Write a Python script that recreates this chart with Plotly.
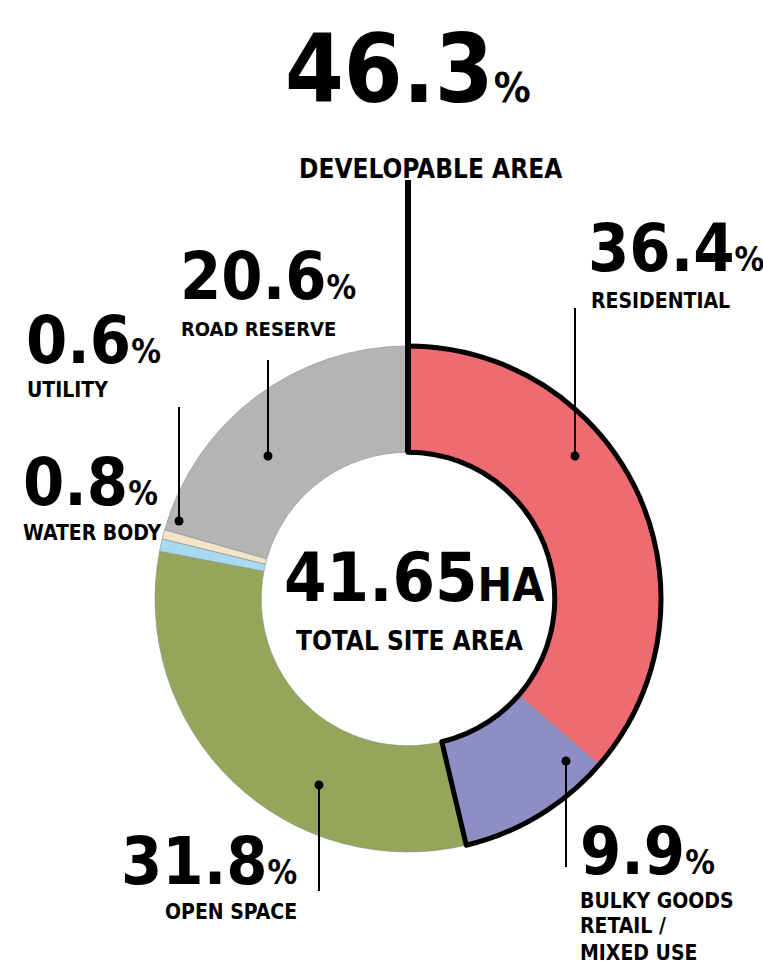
import plotly.graph_objects as go

# Land-use breakdown of the site (percent of total area), clockwise from 12 o'clock
categories = ["Residential", "Bulky Goods Retail / Mixed Use", "Open Space",
              "Water Body", "Utility", "Road Reserve"]
shares = [36.4, 9.9, 31.8, 0.8, 0.6, 20.6]
colors = ["#EE6B72", "#8E8EC5", "#95A65A", "#A8D9F3", "#F3E4C7", "#B4B4B4"]

# Developable area = residential + bulky goods
developable = 46.3
total_site_ha = "41.65"

W, H = 763, 965
FONT = "DejaVu Sans Condensed, Liberation Sans Narrow, Arial Narrow, sans-serif"

# Donut geometry (pixels)
CX, CY, R = 408, 599, 253
HOLE = 0.58


def px(x):
    return x / W


def py(y):
    return 1 - y / H


fig = go.Figure()

dom = dict(x=[px(CX - R), px(CX + R)], y=[py(CY + R), py(CY - R)])

fig.add_trace(go.Pie(
    labels=categories, values=shares, hole=HOLE, sort=False,
    direction="clockwise", rotation=0, textinfo="none", hoverinfo="skip",
    marker=dict(colors=colors, line=dict(color="#8c8c8c", width=0.6)),
    domain=dom, showlegend=False,
))

# Outline around the developable portion of the ring
fig.add_trace(go.Pie(
    labels=["Developable", "Other"], values=[developable, 100 - developable],
    hole=HOLE, sort=False, direction="clockwise", rotation=0,
    textinfo="none", hoverinfo="skip",
    marker=dict(colors=["rgba(0,0,0,0)", "rgba(0,0,0,0)"],
                line=dict(color="black", width=[5, 0])),
    domain=dom, showlegend=False,
))

shapes = []


def vline(x, y0, y1, w=2):
    shapes.append(dict(type="line", xref="paper", yref="paper",
                       x0=px(x), x1=px(x), y0=py(y0), y1=py(y1),
                       line=dict(color="black", width=w), layer="above"))


def dot(x, y, r=4.5):
    shapes.append(dict(type="circle", xref="paper", yref="paper",
                       x0=px(x - r), x1=px(x + r), y0=py(y + r), y1=py(y - r),
                       fillcolor="black", line=dict(width=0), layer="above"))


# Divider from the headline down into the ring
vline(408, 180, 452, w=6)

# Leader lines with end dots
vline(575, 308, 456); dot(575, 456)       # residential
vline(566, 867, 761); dot(566, 761)       # bulky goods
vline(319, 891, 785); dot(319, 785)       # open space
vline(268, 360, 456); dot(268, 456)       # road reserve
vline(179, 407, 521); dot(179, 521)       # utility

annotations = []


def label(text, x, base, size, anchor="left"):
    bottom = base + 0.22 * size
    annotations.append(dict(
        text=text, x=px(x), y=py(bottom), xref="paper", yref="paper",
        xanchor=anchor, yanchor="bottom", showarrow=False,
        borderpad=0, borderwidth=0,
        font=dict(family=FONT, size=size, color="black", weight="bold"),
    ))


def pct(value, pct_size):
    return f"{value:.1f}<span style='font-size:{pct_size}px'>%</span>"


NUM, PCT, LBL = 66, 33, 21

# Headline
label(pct(developable, 41), 408, 103, 94, "center")
label("DEVELOPABLE AREA", 430, 178, 26, "center")

# Slice callouts
label(pct(shares[0], PCT), 588, 272, NUM)
label("RESIDENTIAL", 591, 308, LBL)

label(pct(shares[5], PCT), 180, 300, NUM)
label("ROAD RESERVE", 181, 337, 20)

label(pct(shares[4], PCT), 26, 364, NUM)
label("UTILITY", 27, 397, LBL)

label(pct(shares[3], PCT), 23, 506, NUM)
label("WATER BODY", 23, 540, LBL)

label(pct(shares[2], PCT), 297, 885, NUM, "right")
label("OPEN SPACE", 297, 919, LBL, "right")

label(pct(shares[1], PCT), 580, 875, NUM)
label("BULKY GOODS", 580, 908, LBL)
label("RETAIL /", 580, 933, LBL)
label("MIXED USE", 580, 960, LBL)

# Centre of the donut
label(f"{total_site_ha}<span style='font-size:46px'>HA</span>", 414, 602, 68, "center")
label("TOTAL SITE AREA", 409, 650, 26, "center")

fig.update_layout(
    width=W, height=H, margin=dict(l=0, r=0, t=0, b=0),
    paper_bgcolor="white", plot_bgcolor="white",
    shapes=shapes, annotations=annotations, showlegend=False,
)

fig.write_html("out.html")
